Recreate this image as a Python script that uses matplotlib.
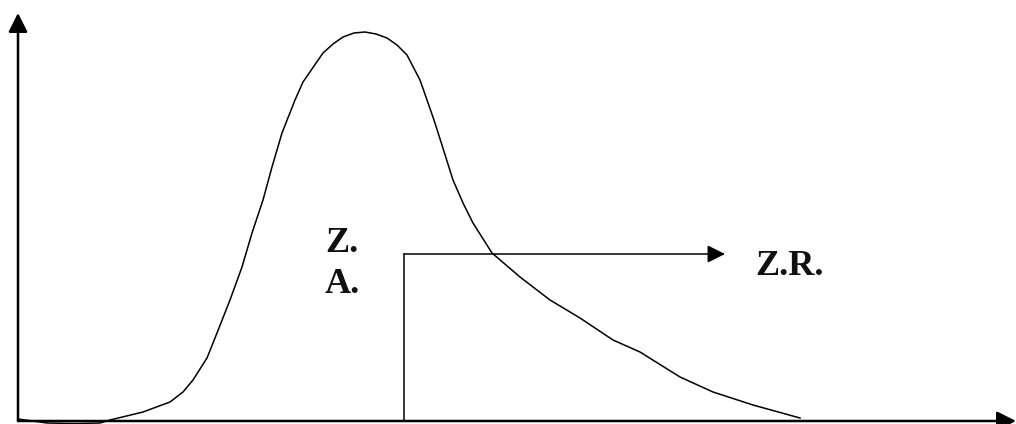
import matplotlib
matplotlib.use('Agg')
import matplotlib.pyplot as plt
from matplotlib import font_manager

# curve (origin at the axes corner, y up)
curve_x = [0, 29, 57, 82, 92, 125, 152, 165, 175, 189, 199, 212, 224, 234, 245,
           254, 264, 277, 285, 305, 315, 325, 336, 347, 358, 369, 379, 389, 402,
           409, 416, 423, 435, 445, 455, 474, 502, 532, 562, 595, 622, 662, 695,
           735, 782]
curve_y = [2, -2, -2.5, -2, 1, 9, 19, 29, 41, 63, 88, 121, 154, 188, 221,
           254, 288, 321, 339, 368, 377, 384, 388, 389, 387, 383, 376, 366, 341,
           321, 301, 279, 241, 218, 198, 168, 144, 121, 103, 81, 69, 44, 29,
           16, 3]

zone_x = 386        # where the Z.A. / Z.R. split is
zone_y = 167
zr_tip = 707
labels = ['Z.', 'A.', 'Z.R.']
label_x = [307, 307, 737]
label_y = [169, 128, 146]

print([f.name for f in font_manager.fontManager.ttflist if 'Liberation' in f.name][:5])
plt.rcParams['font.family'] = 'serif'
plt.rcParams['font.serif'] = ['Liberation Serif', 'Times New Roman', 'DejaVu Serif']

fig = plt.figure(figsize=(10.16, 4.24), dpi=100)
ax = fig.add_axes([0, 0, 1, 1])
ax.set_xlim(-18, 998)
ax.set_ylim(-3, 421)
ax.axis('off')

# axes with arrow heads
ax.annotate('', xy=(0, 408), xytext=(0, 0),
            arrowprops=dict(arrowstyle='-|>,head_length=1.15,head_width=0.58',
                            mutation_scale=10, lw=1.8, color='black',
                            shrinkA=0, shrinkB=0))
ax.annotate('', xy=(998, 0), xytext=(0, 0),
            arrowprops=dict(arrowstyle='-|>,head_length=1.15,head_width=0.58',
                            mutation_scale=10, lw=1.8, color='black',
                            shrinkA=0, shrinkB=0))

ax.plot(curve_x, curve_y, color='black', lw=1.1, solid_joinstyle='round')

# zone boundary and arrow
ax.plot([zone_x, zone_x], [0, zone_y], color='black', lw=1.1)
ax.annotate('', xy=(zr_tip, zone_y), xytext=(zone_x, zone_y),
            arrowprops=dict(arrowstyle='-|>,head_length=1.08,head_width=0.54',
                            mutation_scale=10, lw=1.1, color='black',
                            shrinkA=0, shrinkB=0))

for t, x, y in zip(labels, label_x, label_y):
    ax.text(x, y, t, fontweight='bold', fontsize=26,
            va='baseline', ha='left', color='#111111')

fig.savefig('out.png', dpi=100)
